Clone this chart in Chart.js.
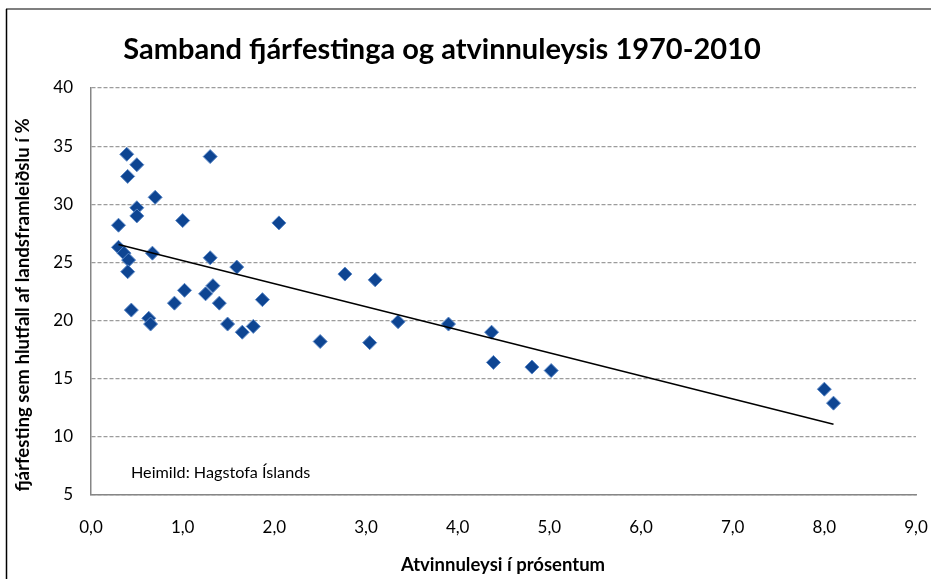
<!DOCTYPE html>
<html>
<head>
<meta charset="utf-8">
<script src="https://cdn.jsdelivr.net/npm/chart.js@4.4.0/dist/chart.umd.min.js"></script>
<style>
    html, body { margin: 0; padding: 0; background: #fff; }
    #wrap { width: 931px; height: 579px; }
</style>
</head>
<body>
<div id="wrap"><canvas id="scatterChart" width="931" height="579"></canvas></div>
<script>
// Atvinnuleysi (x, %) og fjárfesting (y, % af VLF), 1970-2010
const unemployment = [
    0.39, 0.50, 0.40, 0.70, 0.50, 0.50, 0.30, 1.00, 2.05, 1.30,
    0.30, 0.36, 0.41, 0.40, 0.67, 1.30, 1.59, 0.44, 0.63, 0.65,
    0.91, 1.02, 1.25, 1.33, 1.40, 1.49, 1.65, 1.77, 1.87, 2.77,
    3.10, 2.50, 3.04, 3.35, 3.90, 4.37, 4.39, 4.81, 5.02, 8.00,
    8.10
];
const investment = [
    34.3, 33.4, 32.4, 30.6, 29.7, 29.0, 28.2, 28.6, 28.4, 34.1,
    26.3, 25.8, 25.2, 24.2, 25.8, 25.4, 24.6, 20.9, 20.2, 19.7,
    21.5, 22.6, 22.3, 23.0, 21.5, 19.7, 19.0, 19.5, 21.8, 24.0,
    23.5, 18.2, 18.1, 19.9, 19.7, 19.0, 16.4, 16.0, 15.7, 14.1,
    12.9
];

// Leitnilína (línuleg) - endapunktar lesnir af myndinni
const trendX = [0.30, 8.10];
const trendY = [26.55, 11.08];

const xTickLabels = ['0,0', '1,0', '2,0', '3,0', '4,0', '5,0', '6,0', '7,0', '8,0', '9,0'];
const yTickLabels = ['5', '10', '15', '20', '25', '30', '35', '40'];

const chartTitle = 'Samband fjárfestinga og atvinnuleysis 1970-2010';
const xTitle = 'Atvinnuleysi í prósentum';
const yTitle = 'fjárfesting sem hlutfall af landsframleiðslu í %';
const sourceNote = 'Heimild: Hagstofa Íslands';

const FONT = 'Lato, "Open Sans", sans-serif';

// Frame, title, axis titles and source note drawn on top
const decorPlugin = {
    id: 'decor',
    afterDraw(chart) {
        const ctx = chart.ctx;
        ctx.save();

        // outer frame (top + left edge of the chart object)
        ctx.strokeStyle = '#7f7f7f';
        ctx.lineWidth = 2;
        ctx.beginPath();
        ctx.moveTo(6, 9);
        ctx.lineTo(931, 9);
        ctx.stroke();
        ctx.strokeStyle = '#000';
        ctx.lineWidth = 1.5;
        ctx.beginPath();
        ctx.moveTo(6.5, 9);
        ctx.lineTo(6.5, 579);
        ctx.stroke();

        ctx.fillStyle = '#000';
        ctx.textAlign = 'center';
        ctx.textBaseline = 'middle';

        ctx.font = 'bold 29px ' + FONT;
        ctx.fillText(chartTitle, 442, 50);

        ctx.font = 'bold 18.5px ' + FONT;
        ctx.fillText(xTitle, 503, 565);

        ctx.save();
        ctx.translate(23, 305);
        ctx.rotate(-Math.PI / 2);
        ctx.font = 'bold 18.6px ' + FONT;
        ctx.fillText(yTitle, 0, 0);
        ctx.restore();

        ctx.textAlign = 'left';
        ctx.font = '16.2px ' + FONT;
        ctx.fillText(sourceNote, 131, 473);

        ctx.restore();
    }
};

const points = unemployment.map((x, i) => ({ x: x, y: investment[i] }));
const trend = trendX.map((x, i) => ({ x: x, y: trendY[i] }));

new Chart(document.getElementById('scatterChart'), {
    type: 'scatter',
    data: {
        datasets: [
            {
                label: 'Leitnilína',
                data: trend,
                showLine: true,
                borderColor: '#000',
                borderWidth: 1.5,
                pointRadius: 0,
                fill: false,
                order: 0
            },
            {
                label: 'Fjárfesting',
                data: points,
                pointStyle: 'rectRot',
                pointRadius: 7,
                pointHoverRadius: 7,
                backgroundColor: '#0E4592',
                borderColor: '#5A87C6',
                borderWidth: 1,
                order: 1
            }
        ]
    },
    options: {
        responsive: false,
        animation: false,
        devicePixelRatio: 1,
        layout: { padding: { top: 88, right: 0, left: 0, bottom: 0 } },
        plugins: {
            legend: { display: false },
            title: { display: false },
            tooltip: { enabled: false }
        },
        scales: {
            x: {
                type: 'linear',
                min: 0,
                max: 9,
                afterFit: (scale) => { scale.height = 84; scale.paddingRight = 15; },
                afterBuildTicks: (scale) => {
                    scale.ticks = xTickLabels.map((_, i) => ({ value: i }));
                },
                ticks: {
                    padding: 22,
                    color: '#000',
                    font: { family: FONT, size: 17 },
                    maxRotation: 0,
                    callback: (v, i) => xTickLabels[i]
                },
                grid: { display: false, drawTicks: false },
                border: { display: true, color: '#868686', width: 1.5 }
            },
            y: {
                type: 'linear',
                min: 5,
                max: 40,
                afterFit: (scale) => { scale.width = 91; },
                afterBuildTicks: (scale) => {
                    scale.ticks = yTickLabels.map(t => ({ value: Number(t) }));
                },
                ticks: {
                    padding: 18,
                    color: '#000',
                    font: { family: FONT, size: 17 },
                    callback: (v, i) => yTickLabels[i]
                },
                grid: { color: '#9c9c9c', lineWidth: 1.2, drawTicks: false },
                border: { display: true, color: '#868686', width: 1.5, dash: [4, 2] }
            }
        }
    },
    plugins: [decorPlugin]
});
</script>
</body>
</html>
